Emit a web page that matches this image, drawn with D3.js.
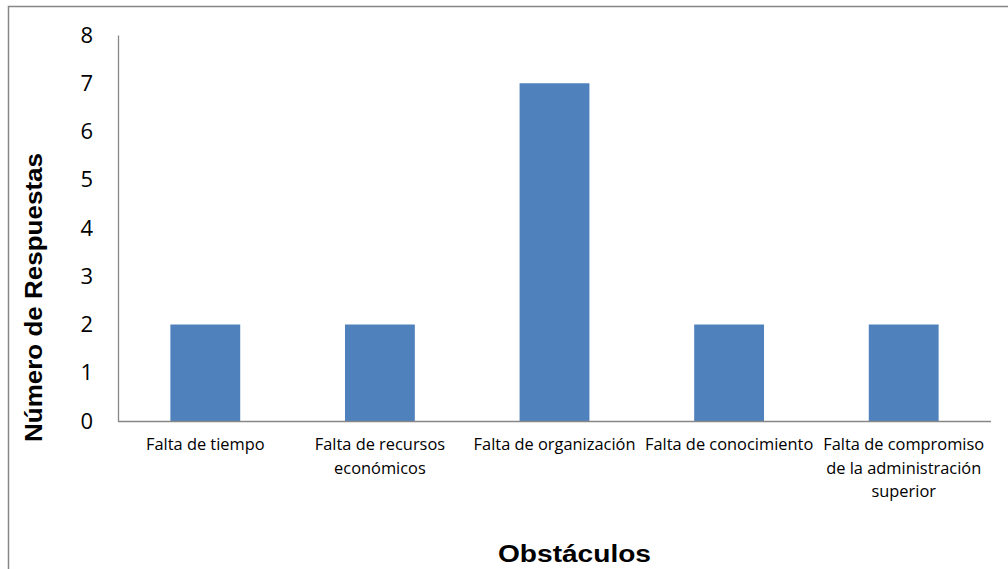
<!DOCTYPE html>
<html>
<head>
<meta charset="utf-8">
<script src="https://cdn.jsdelivr.net/npm/d3@7"></script>
<style>
  html, body { margin: 0; padding: 0; background: #fff; }
  svg { display: block; }
</style>
</head>
<body>
<svg id="chart" width="1008" height="569"></svg>
<script>
// Obstacles reported and number of responses for each one
const categories = [
  "Falta de tiempo",
  "Falta de recursos económicos",
  "Falta de organización",
  "Falta de conocimiento",
  "Falta de compromiso de la administración superior"
];
// Category labels as they are broken onto lines under the axis
const categoryLines = [
  ["Falta de tiempo"],
  ["Falta de recursos", "económicos"],
  ["Falta de organización"],
  ["Falta de conocimiento"],
  ["Falta de compromiso", "de la administración", "superior"]
];
const responses = [2, 2, 7, 2, 2];
const yTicks = [0, 1, 2, 3, 4, 5, 6, 7, 8];

const svg = d3.select("#chart");
const W = 1008, H = 569;
const plot = { left: 118, right: 991, top: 35, bottom: 421 };
const labelFont = "'Open Sans', Lato, sans-serif";
const titleFont = "'Liberation Sans', Arial, sans-serif";

// Outer chart frame (extends past the right and bottom edges)
svg.append("rect")
  .attr("x", 8.5).attr("y", 6.5)
  .attr("width", W + 20).attr("height", H + 20)
  .attr("fill", "none")
  .attr("stroke", "#878787")
  .attr("stroke-width", 1.5);

const x = d3.scaleBand()
  .domain(categories)
  .range([plot.left, plot.right])
  .paddingInner(0.6)
  .paddingOuter(0.3);

const y = d3.scaleLinear()
  .domain([0, 8])
  .range([plot.bottom, plot.top]);

// Bars
svg.append("g")
  .selectAll("rect")
  .data(categories)
  .join("rect")
  .attr("x", d => x(d))
  .attr("width", x.bandwidth())
  .attr("y", (d, i) => y(responses[i]))
  .attr("height", (d, i) => y(0) - y(responses[i]))
  .attr("fill", "#4f81bd");

// Y axis: line without tick marks, numbers to the left
const yAxis = svg.append("g")
  .attr("transform", `translate(${plot.left},0)`)
  .call(d3.axisLeft(y).tickValues(yTicks).tickFormat(d3.format("d")).tickSize(0).tickPadding(25));
yAxis.select(".domain").attr("stroke", "#878787").attr("stroke-width", 1.3);
yAxis.selectAll("text")
  .attr("font-family", labelFont)
  .attr("font-size", 22)
  .attr("fill", "#000");

// X axis: line with wrapped category labels
const xAxis = svg.append("g")
  .attr("transform", `translate(0,${plot.bottom})`)
  .call(d3.axisBottom(x).tickSize(0).tickFormat(""));
xAxis.select(".domain")
  .attr("stroke", "#878787").attr("stroke-width", 1.3)
  .attr("d", `M${plot.left},0.5H${plot.right}`);
xAxis.selectAll(".tick").each(function (d, i) {
  const t = d3.select(this).append("text")
    .attr("text-anchor", "middle")
    .attr("font-family", labelFont)
    .attr("font-size", 16.4)
    .attr("fill", "#000");
  categoryLines[i].forEach((line, k) => {
    t.append("tspan").attr("x", 0).attr("y", 29 + k * 23.5).text(line);
  });
});

// Axis titles
svg.append("text")
  .attr("transform", `translate(42,297.5) rotate(-90)`)
  .attr("text-anchor", "middle")
  .attr("font-family", titleFont)
  .attr("font-weight", "bold")
  .attr("font-size", 23.5)
  .attr("textLength", 289)
  .attr("lengthAdjust", "spacingAndGlyphs")
  .text("Número de Respuestas");

svg.append("text")
  .attr("x", 574.5).attr("y", 562)
  .attr("text-anchor", "middle")
  .attr("font-family", titleFont)
  .attr("font-weight", "bold")
  .attr("font-size", 23.5)
  .attr("textLength", 153)
  .attr("lengthAdjust", "spacingAndGlyphs")
  .text("Obstáculos");
</script>
</body>
</html>
